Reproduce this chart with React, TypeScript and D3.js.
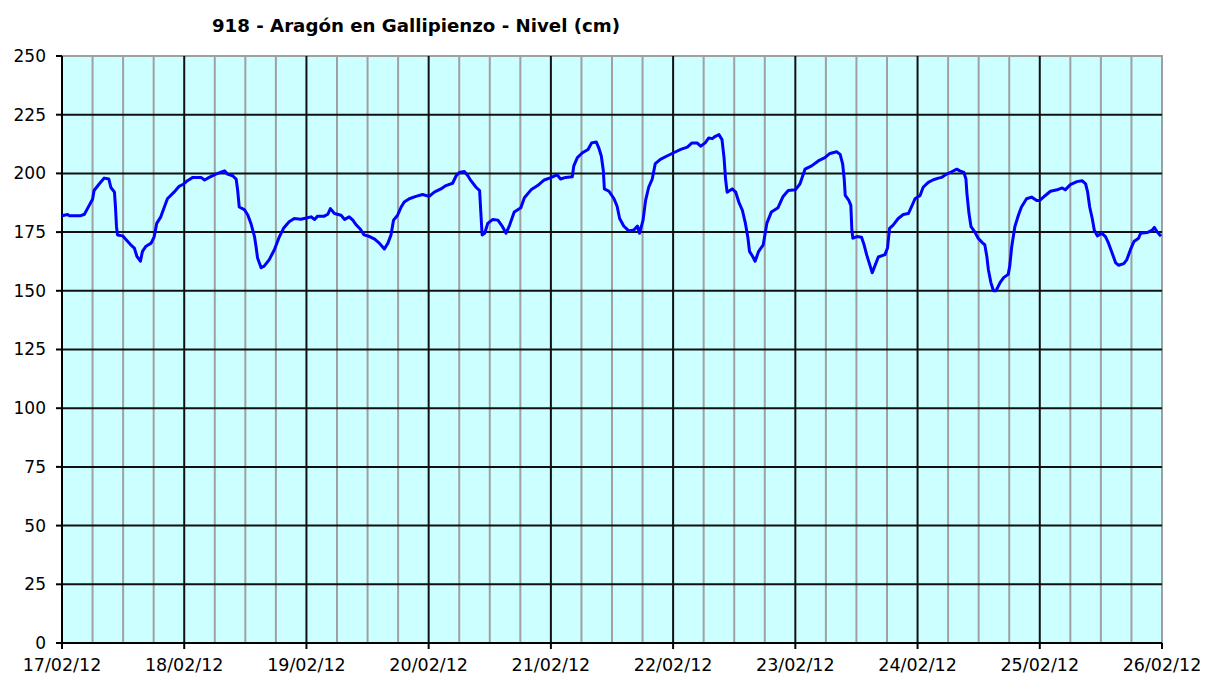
import React, { useRef, useEffect } from "react";
import * as d3 from "d3";

const width = 1209;
const height = 677;
const margin = { top: 56, right: 47, bottom: 34, left: 62 };

const title = "918 - Aragón en Gallipienzo - Nivel (cm)";
const startDate = new Date(2012, 1, 17);
const endDate = new Date(2012, 1, 26);
const levelTicks = [0, 25, 50, 75, 100, 125, 150, 175, 200, 225, 250];

// [hours since 17/02/12 00:00, level in cm]
const readings17_18 = [
    [0, 182], [1.1, 182.5], [1.4, 182], [3.7, 182], [4.4, 182.6], [5, 185],
    [6, 189], [6.3, 192.7], [7.3, 195.5], [8.3, 198], [9.2, 197.6], [9.6, 194],
    [10.3, 192], [10.5, 185.7], [10.7, 177.3], [10.9, 173.8], [11.9, 173.4],
    [12.6, 171.7], [13.5, 169.6], [14.2, 168.2], [14.7, 164.7], [15.4, 162.6],
    [15.8, 166.8], [16.5, 169], [17.5, 170.3], [18.1, 173], [18.6, 178.7],
    [19.4, 181.5], [20.1, 185.7], [20.7, 189.2], [22, 192], [23, 194.5],
    [23.9, 195.5], [24.7, 197], [25.7, 198.3], [27.3, 198.3], [28, 197.2],
    [28.9, 198.3], [30.2, 199.7], [31.9, 201.1], [32.5, 199.7], [33.5, 199],
    [34.2, 197.6], [34.5, 192.7], [34.8, 185.7], [35.8, 184.6], [36.5, 182.2],
    [37.1, 178.7], [37.8, 173.1], [38.1, 168.9], [38.4, 164], [39.1, 159.8],
    [39.7, 160.5], [40.7, 163.3], [41.7, 167.5], [42.7, 173.1], [43.5, 176.6],
    [44.6, 179.4], [45.6, 180.8], [46.9, 180.5], [48, 181],
];

const readings19_20 = [
    [48.9, 181.5], [49.6, 180.4], [50.2, 181.8], [51.5, 181.8], [52.2, 182.6],
    [52.7, 185], [53.5, 182.9], [54.8, 182.2], [55.5, 180.4], [56.4, 181.5],
    [57.1, 180.1], [57.8, 178], [58.6, 176.2], [59.3, 173.8], [60.4, 173.1],
    [61.4, 172], [62.3, 170.3], [63.3, 167.8], [64, 170.3], [64.6, 173.8],
    [65.1, 180.1], [65.9, 182.2], [66.6, 185.7], [67.2, 187.8], [68.2, 189.2],
    [69.5, 190.2], [70.8, 191], [72.1, 190.2], [73.1, 192], [74.4, 193.4],
    [75.4, 194.8], [76.7, 195.8], [77.4, 199], [78, 200.4], [79, 200.8],
    [79.7, 199], [80.3, 196.9], [81.3, 194.1], [82, 192.7], [82.2, 185],
    [82.5, 173.8], [83, 174.5], [83.6, 178.7], [84.6, 180.4], [85.6, 180.1],
    [86.5, 177.3], [87.2, 174.5], [87.9, 178], [88.8, 183.6], [90.1, 185.4],
    [90.8, 189.6], [92.1, 193], [93.4, 194.8], [94.7, 197.2],
];

const readings21_22 = [
    [96, 198.2], [97.2, 199.4], [97.9, 197.6], [98.9, 198.3], [100.2, 198.6],
    [100.5, 203.2], [101.2, 206.7], [102.2, 208.8], [103.3, 210.2], [104, 213],
    [104.9, 213.4], [105.4, 210.9], [105.9, 207.4], [106.3, 201.1], [106.5, 193.4],
    [107.4, 192.4], [108.4, 189.2], [109, 186], [109.5, 180.8], [110.3, 177.6],
    [111.3, 175.5], [112.3, 175.9], [113, 177.6], [113.4, 174.5], [114.1, 180.1],
    [114.6, 188.5], [115.2, 194.1], [115.9, 197.6], [116.5, 204.2], [117.5, 206],
    [118.8, 207.4], [120.1, 208.8], [121.5, 210.2], [122.8, 211.2], [123.7, 213],
    [124.7, 213], [125.4, 211.6], [126.3, 213], [127, 215.1], [127.7, 214.8],
    [128.3, 215.8], [129, 216.5], [129.6, 214.4], [130, 206.7], [130.3, 197.6],
    [130.6, 192], [131.6, 193.4], [132.3, 192], [132.9, 187.8], [133.6, 184.3],
    [134.2, 178.7], [134.7, 172.4], [135, 166.8], [135.6, 164.7], [136.1, 162.6],
    [136.8, 166.8], [137.7, 169.6], [138.4, 178.7], [139.3, 183.6], [140.6, 185.4],
    [141.6, 190.2], [142.6, 192.7],
];

const readings23_24 = [
    [144, 193], [144.9, 195.5], [145.9, 201.8], [147.2, 203.2], [148.5, 205.3],
    [149.8, 206.7], [150.8, 208.5], [152.1, 209.2], [152.8, 208.1], [153.3, 203.9],
    [153.6, 197.6], [153.8, 190.6], [154.5, 188.5], [154.9, 186.4], [155.1, 175.9],
    [155.3, 172.4], [156.1, 173.1], [157, 172.8], [157.5, 169.6], [158, 165.4],
    [158.7, 160.5], [159.1, 157.7], [159.6, 160.5], [160.3, 164.4], [161.6, 165.4],
    [162.1, 168.2], [162.5, 176.6], [163.2, 178], [164.2, 180.8], [165.2, 182.5],
    [166.2, 182.9], [166.8, 185.7], [167.5, 189.2], [168.5, 190.6], [169.1, 194.1],
    [170.1, 196.2], [171.1, 197.3], [172.1, 198], [172.7, 198.3], [173.7, 199.7],
    [174.7, 200.7], [175.7, 201.8], [176.3, 201.1], [177.1, 200.4], [177.5, 197.6],
    [177.7, 191.3], [178.1, 182.9], [178.5, 177.3], [179.2, 175.2], [179.9, 172.4],
    [180.8, 170.3], [181.2, 169.6], [181.6, 164.7], [181.9, 159.1], [182.4, 153.5],
    [182.9, 150], [183.4, 150], [184.2, 153.5], [184.9, 155.6], [185.8, 157],
    [186.1, 160.5], [186.5, 168.9], [187.1, 177.3], [187.8, 182.2], [188.4, 185.7],
    [189.4, 189.2], [190.4, 189.9], [191.4, 188.5],
];

const readings25 = [
    [192, 188.5], [193.1, 190.6], [194.1, 192.4], [195.4, 193], [196.4, 193.8],
    [197, 193], [198, 195.2], [199.3, 196.5], [200.3, 196.9], [201, 195.5],
    [201.4, 192], [201.8, 185.7], [202.3, 180.8], [202.7, 175.9], [203.3, 173.4],
    [204.2, 174.5], [204.9, 173.1], [205.5, 170.3], [206.2, 166.1], [206.9, 161.9],
    [207.5, 160.9], [208.5, 161.6], [209.1, 163.3], [209.8, 167.5], [210.5, 171],
    [211.4, 172.4], [211.8, 174.5], [213.1, 174.8], [214.1, 175.9], [214.5, 177],
    [215, 175.2], [215.8, 173.2],
];

const readings = [
    ...readings17_18,
    ...readings19_20,
    ...readings21_22,
    ...readings23_24,
    ...readings25,
].map(([h, v]) => ({ date: new Date(startDate.getTime() + h * 3600e3), value: v }));

const font = "'DejaVu Sans', Verdana, sans-serif";

function draw(ref: SVGSVGElement) {
    const svg = d3.select(ref);
    svg.selectAll("*").remove();

    const x = d3
        .scaleTime()
        .domain([startDate, endDate])
        .range([margin.left, width - margin.right]);
    const y = d3
        .scaleLinear()
        .domain([0, 250])
        .range([height - margin.bottom, margin.top]);

    const [x0, x1] = x.range();
    const [y0, y1] = y.range();

    // plot area
    svg.append("rect")
        .attr("x", x0)
        .attr("y", y1)
        .attr("width", x1 - x0)
        .attr("height", y0 - y1)
        .attr("fill", "#ccffff")
        .attr("stroke", "#a0a0a0")
        .attr("stroke-width", 2);

    const days = d3.timeDay.range(startDate, d3.timeDay.offset(endDate, 1));
    const quarters = d3
        .timeHour.every(6)!
        .range(startDate, endDate)
        .filter((d) => d.getHours() !== 0);

    // minor gridlines (every 6 hours)
    svg.append("g")
        .attr("stroke", "#a0a0a0")
        .attr("stroke-width", 2)
        .selectAll("line")
        .data(quarters)
        .join("line")
        .attr("x1", (d) => x(d))
        .attr("x2", (d) => x(d))
        .attr("y1", y1)
        .attr("y2", y0);

    // major horizontal gridlines
    svg.append("g")
        .attr("stroke", "#111")
        .attr("stroke-width", 2)
        .selectAll("line")
        .data(levelTicks.filter((t) => t > 0 && t < 250))
        .join("line")
        .attr("x1", x0)
        .attr("x2", x1)
        .attr("y1", (d) => y(d))
        .attr("y2", (d) => y(d));

    // major vertical gridlines (days)
    svg.append("g")
        .attr("stroke", "#111")
        .attr("stroke-width", 2)
        .selectAll("line")
        .data(days.filter((d) => d > startDate && d < endDate))
        .join("line")
        .attr("x1", (d) => x(d))
        .attr("x2", (d) => x(d))
        .attr("y1", y1)
        .attr("y2", y0);

    // axes
    const axisG = svg.append("g").attr("stroke", "#000").attr("stroke-width", 2);
    axisG.append("line").attr("x1", x0).attr("x2", x0).attr("y1", y1).attr("y2", y0 + 1);
    axisG.append("line").attr("x1", x0 - 1).attr("x2", x1).attr("y1", y0).attr("y2", y0);
    axisG.selectAll(".ty")
        .data(levelTicks)
        .join("line")
        .attr("class", "ty")
        .attr("x1", x0 - 6)
        .attr("x2", x0)
        .attr("y1", (d) => y(d))
        .attr("y2", (d) => y(d));
    axisG.selectAll(".tx")
        .data(days.filter((d) => d <= endDate))
        .join("line")
        .attr("class", "tx")
        .attr("x1", (d) => x(d))
        .attr("x2", (d) => x(d))
        .attr("y1", y0)
        .attr("y2", y0 + 6);

    // tick labels
    svg.append("g")
        .attr("font-family", font)
        .attr("font-size", 17)
        .attr("text-anchor", "end")
        .selectAll("text")
        .data(levelTicks)
        .join("text")
        .attr("x", x0 - 16)
        .attr("y", (d) => y(d))
        .attr("dy", "0.35em")
        .text((d) => d);

    const fmt = d3.timeFormat("%d/%m/%y");
    svg.append("g")
        .attr("font-family", font)
        .attr("font-size", 17.5)
        .attr("text-anchor", "middle")
        .selectAll("text")
        .data(days.filter((d) => d <= endDate))
        .join("text")
        .attr("x", (d) => x(d))
        .attr("y", 671)
        .text((d) => fmt(d));

    // level line
    const line = d3
        .line<{ date: Date; value: number }>()
        .x((d) => x(d.date))
        .y((d) => y(d.value));

    svg.append("path")
        .datum(readings)
        .attr("fill", "none")
        .attr("stroke", "#0000ff")
        .attr("stroke-width", 3)
        .attr("stroke-linejoin", "round")
        .attr("d", line);

    svg.append("text")
        .attr("x", 416)
        .attr("y", 32)
        .attr("text-anchor", "middle")
        .attr("font-family", font)
        .attr("font-weight", "bold")
        .attr("font-size", 18.2)
        .text(title);
}

export default function App() {
    const ref = useRef<SVGSVGElement>(null);

    useEffect(() => {
        if (ref.current) draw(ref.current);
    }, []);

    return (
        <div style={{ position: "absolute", left: 0, top: 0 }}>
            <svg ref={ref} width={width} height={height} style={{ display: "block", background: "#fff" }} />
        </div>
    );
}
